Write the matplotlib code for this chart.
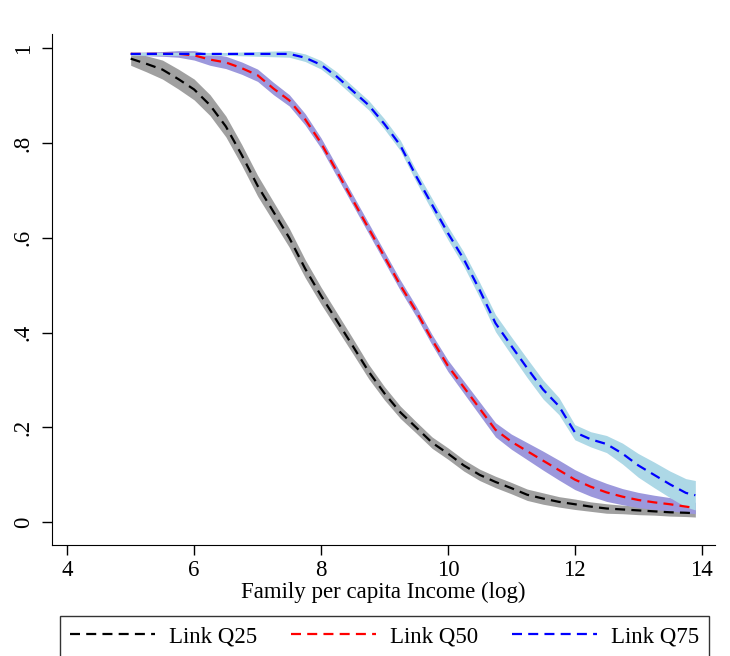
import matplotlib
matplotlib.use("Agg")
import matplotlib.pyplot as plt
import numpy as np

plt.rcParams['font.family'] = ['Liberation Serif', 'DejaVu Serif']

# log family per capita income grid
income = [5.0, 5.25, 5.5, 5.75, 6.0, 6.25, 6.5, 6.75, 7.0, 7.25, 7.5, 7.75,
          8.0, 8.25, 8.5, 8.75, 9.0, 9.25, 9.5, 9.75, 10.0, 10.25, 10.5, 10.75,
          11.0, 11.25, 11.5, 11.75, 12.0, 12.25, 12.5, 12.75, 13.0, 13.25, 13.5,
          13.75, 13.9]

q25 = [0.978, 0.967, 0.955, 0.935, 0.913, 0.88, 0.835, 0.775, 0.71, 0.655,
       0.60, 0.535, 0.478, 0.425, 0.372, 0.318, 0.272, 0.232, 0.20, 0.168, 0.145,
       0.12, 0.10, 0.085, 0.072, 0.058, 0.05, 0.043, 0.038, 0.033, 0.029,
       0.027, 0.025, 0.023, 0.021, 0.02, 0.019]
q50 = [0.988, 0.988, 0.988, 0.988, 0.985, 0.976, 0.97, 0.958, 0.943, 0.915,
       0.89, 0.85, 0.80, 0.74, 0.68, 0.62, 0.56, 0.50, 0.445, 0.385, 0.33,
       0.285, 0.24, 0.195, 0.17, 0.15, 0.13, 0.11, 0.09, 0.075, 0.063, 0.054,
       0.047, 0.042, 0.038, 0.033, 0.03]
q75 = [0.988, 0.988, 0.988, 0.988, 0.988, 0.988, 0.988, 0.988, 0.988, 0.988,
       0.988, 0.98, 0.965, 0.94, 0.91, 0.88, 0.84, 0.795, 0.73, 0.67, 0.61,
       0.555, 0.49, 0.42, 0.372, 0.325, 0.28, 0.245, 0.19, 0.175, 0.165, 0.145,
       0.12, 0.10, 0.08, 0.062, 0.057]

# confidence band half widths
ci25 = [0.014, 0.017, 0.02, 0.021, 0.022, 0.022, 0.022, 0.022, 0.022, 0.021,
        0.02, 0.019, 0.018, 0.017, 0.016, 0.015, 0.014, 0.013, 0.012, 0.012,
        0.012, 0.012, 0.012, 0.012, 0.012, 0.012, 0.012, 0.011, 0.011, 0.010,
        0.010, 0.009, 0.009, 0.008, 0.008, 0.008, 0.008]
ci50 = [0.003, 0.004, 0.005, 0.007, 0.01, 0.012, 0.013, 0.013, 0.013, 0.013,
        0.012, 0.012, 0.011, 0.011, 0.011, 0.011, 0.011, 0.011, 0.011, 0.011,
        0.012, 0.013, 0.014, 0.015, 0.016, 0.018, 0.02, 0.021, 0.021, 0.02,
        0.019, 0.017, 0.016, 0.015, 0.014, 0.013, 0.012]
ci75 = [0.003, 0.003, 0.003, 0.003, 0.003, 0.003, 0.003, 0.004, 0.005, 0.006,
        0.007, 0.008, 0.009, 0.010, 0.010, 0.010, 0.011, 0.011, 0.012, 0.013,
        0.014, 0.015, 0.016, 0.018, 0.019, 0.02, 0.02, 0.018, 0.016, 0.016,
        0.018, 0.022, 0.025, 0.027, 0.028, 0.03, 0.031]

labels = ["Link Q25", "Link Q50", "Link Q75"]
line_cols = ["black", "#ff0000", "#0000ff"]
band_cols = ["#a0a0a0", "#9c98dc", "#add8e6"]

fig = plt.figure(figsize=(7.3, 6.56), dpi=100)
ax = fig.add_axes([52/730, 1-545/656, (715-52)/730, (545-34)/656])

x = np.array(income)
for ys, ci, bc in zip([q25, q50, q75], [ci25, ci50, ci75], band_cols):
    ys = np.array(ys)
    ci = np.array(ci)
    ax.fill_between(x, ys - ci, ys + ci, color=bc, lw=0)
for ys, lc, lab in zip([q25, q50, q75], line_cols, labels):
    ax.plot(x, ys, color=lc, lw=1.6, ls=(0, (4.5, 2.8)), label=lab)

ax.set_xlim(3.76, 14.21)
ax.set_ylim(-0.048, 1.03)
ax.set_xticks([4, 6, 8, 10, 12, 14])
ax.set_yticks([0, 0.2, 0.4, 0.6, 0.8, 1])
ax.set_yticklabels(["0", ".2", ".4", ".6", ".8", "1"], rotation=90, va='center')
ax.tick_params(labelsize=16.5, length=7, width=1, direction='out')
ax.tick_params(axis='y', pad=6)
ax.spines['top'].set_visible(False)
ax.spines['right'].set_visible(False)
ax.set_xlabel("Family per capita Income (log)", fontsize=16.5, labelpad=1)

leg = fig.legend(loc='upper left', ncol=3,
                 bbox_to_anchor=(60/730, 1-616/656),
                 fontsize=16.5, handlelength=3.7, handletextpad=0.6,
                 columnspacing=1.5, frameon=True, fancybox=False,
                 edgecolor='black', borderaxespad=0, borderpad=0.45)
leg.get_frame().set_linewidth(1.0)

fig.savefig("out.png", dpi=100)
